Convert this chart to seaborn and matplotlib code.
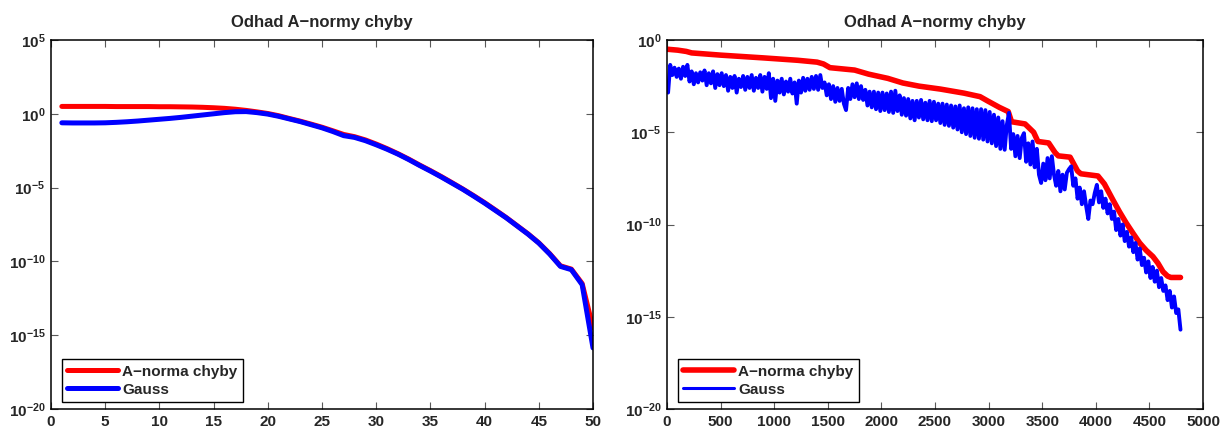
import numpy as np
import pandas as pd
import matplotlib
matplotlib.use("Agg")
import matplotlib.pyplot as plt
import seaborn as sns
from matplotlib.ticker import LogFormatterMathtext, FixedLocator, NullLocator

# ---- data: left panel (50 iterations), values as log10 ----
iter_left = np.arange(1, 51)
anorm_left_log = [0.50, 0.50, 0.50, 0.50, 0.50, 0.49, 0.49, 0.49, 0.49, 0.48,
                  0.48, 0.47, 0.46, 0.44, 0.41, 0.37, 0.31, 0.23, 0.13, 0.02,
                  -0.13, -0.32, -0.50, -0.70, -0.91, -1.15, -1.40, -1.55, -1.77, -2.05,
                  -2.36, -2.70, -3.07, -3.47, -3.85, -4.25, -4.67, -5.10, -5.55, -6.02,
                  -6.52, -7.03, -7.58, -8.13, -8.74, -9.47, -10.30, -10.52, -11.50, -14.50]
gauss_left_log = [-0.61, -0.62, -0.62, -0.62, -0.61, -0.58, -0.54, -0.49, -0.43, -0.37,
                  -0.31, -0.24, -0.16, -0.08, 0.00, 0.08, 0.14, 0.15, 0.08, -0.02,
                  -0.17, -0.35, -0.53, -0.74, -0.95, -1.20, -1.48, -1.60, -1.82, -2.10,
                  -2.40, -2.73, -3.10, -3.50, -3.88, -4.28, -4.70, -5.12, -5.58, -6.05,
                  -6.55, -7.05, -7.60, -8.15, -8.76, -9.50, -10.34, -10.56, -11.58, -15.86]

# ---- data: right panel (about 4800 iterations), values as log10 ----
anorm_right_iter = [1, 100, 180, 230, 500, 900, 1220, 1400, 1460, 1520,
                    1750, 1880, 2060, 2200, 2350, 2550, 2770, 2920, 2990, 3100,
                    3183, 3214, 3340, 3420, 3460, 3560, 3620, 3650, 3760, 3830,
                    3860, 4020, 4080, 4160, 4220, 4284, 4350, 4409, 4470, 4533,
                    4580, 4627, 4670, 4700, 4790]
anorm_right_log = [-0.50, -0.55, -0.62, -0.70, -0.82, -0.97, -1.10, -1.20, -1.30, -1.50,
                   -1.63, -1.85, -2.08, -2.33, -2.50, -2.66, -2.88, -3.07, -3.30, -3.65,
                   -3.88, -4.43, -4.55, -5.00, -5.50, -5.58, -6.10, -6.28, -6.35, -7.10,
                   -7.25, -7.37, -7.80, -8.67, -9.30, -9.92, -10.50, -11.00, -11.40, -11.74,
                   -12.10, -12.56, -12.80, -12.87, -12.87]

gauss_right_iter = np.arange(10, 4791, 20)
gauss_right_log = [
    # 10 .. 490
    -2.85, -1.35, -1.90, -1.50, -2.00, -1.55, -2.10, -1.45, -1.95, -1.35,
    -2.25, -1.70, -2.40, -1.80, -2.30, -1.75, -2.20, -1.65, -2.45, -1.80,
    -2.35, -1.70, -2.60, -1.85, -2.45,
    # 510 .. 990
    -1.80, -2.50, -1.90, -2.75, -2.00, -2.60, -1.95, -2.85, -2.10, -2.55,
    -1.95, -2.70, -2.00, -2.60, -1.90, -2.75, -2.05, -2.60, -1.90, -2.80,
    -2.00, -2.65, -1.80, -3.15, -2.10,
    # 1010 .. 1490
    -3.30, -2.20, -2.85, -2.10, -2.95, -2.25, -2.80, -2.10, -2.90, -2.30,
    -3.45, -2.20, -2.85, -2.05, -2.75, -2.10, -2.70, -2.00, -2.65, -1.95,
    -2.70, -1.90, -2.60, -2.30, -3.00,
    # 1510 .. 1990
    -2.40, -3.20, -2.50, -3.35, -2.60, -3.30, -2.65, -3.45, -3.80, -2.60,
    -3.20, -2.40, -3.10, -2.35, -3.20, -2.50, -3.25, -2.70, -3.55, -2.80,
    -3.65, -2.80, -3.75, -2.85, -3.85,
    # 2010 .. 2490
    -2.85, -3.80, -2.90, -3.90, -2.80, -3.95, -2.75, -3.85, -3.00, -4.05,
    -3.15, -4.10, -3.20, -4.25, -3.30, -4.35, -3.30, -4.20, -3.25, -4.30,
    -3.40, -4.35, -3.30, -4.40, -3.35,
    # 2510 .. 2990
    -4.35, -3.45, -4.50, -3.45, -4.60, -3.50, -4.65, -3.55, -4.75, -3.60,
    -4.85, -3.55, -5.00, -3.70, -5.10, -3.65, -5.20, -3.70, -5.30, -3.75,
    -5.35, -3.75, -5.40, -3.80, -5.50,
    # 3010 .. 3490
    -3.90, -5.60, -4.05, -5.75, -4.20, -5.90, -4.40, -5.95, -4.60, -3.95,
    -5.90, -5.10, -6.30, -5.20, -6.40, -5.30, -5.05, -6.60, -5.60, -6.75,
    -5.50, -6.90, -5.90, -7.30, -7.75,
    # 3510 .. 3990
    -6.70, -7.60, -6.40, -7.50, -6.30, -7.30, -7.90, -7.10, -8.20, -7.30,
    -8.10, -7.20, -7.00, -6.85, -7.90, -7.50, -8.60, -8.00, -8.90, -8.20,
    -9.00, -9.70, -8.70, -8.90, -8.30,
    # 4010 .. 4490
    -7.85, -8.80, -8.20, -9.10, -8.60, -9.40, -8.90, -9.70, -9.30, -10.30,
    -9.70, -10.60, -10.00, -10.90, -10.40, -11.20, -10.70, -11.50, -11.00, -11.90,
    -11.30, -12.20, -11.80, -12.60, -12.00,
    # 4510 .. 4790
    -12.90, -12.30, -13.10, -12.50, -13.40, -12.90, -13.60, -13.30, -14.10, -13.60,
    -14.50, -13.90, -14.80, -14.60, -15.70,
]

TITLE = "Odhad A\u2212normy chyby"
LABEL_A = "A\u2212norma chyby"
LABEL_G = "Gauss"
RED = "#ff0000"
BLUE = "#0000ff"

sns.set_style("ticks")
plt.rcParams["font.family"] = ["Liberation Sans", "DejaVu Sans"]
plt.rcParams["font.weight"] = "bold"
plt.rcParams["mathtext.fontset"] = "custom"
plt.rcParams["mathtext.rm"] = "Liberation Sans:bold"
plt.rcParams["mathtext.it"] = "Liberation Sans:bold"
plt.rcParams["mathtext.bf"] = "Liberation Sans:bold"
plt.rcParams["axes.unicode_minus"] = True

fig = plt.figure(figsize=(12.24, 4.30), dpi=100)
W, H = 1224.0, 430.0
ax1 = fig.add_axes([51 / W, 21 / H, 542 / W, 369 / H])
ax2 = fig.add_axes([667 / W, 21 / H, 536 / W, 369 / H])

df_left = pd.DataFrame({
    "iter": iter_left,
    "anorm": 10.0 ** np.array(anorm_left_log),
    "gauss": 10.0 ** np.array(gauss_left_log),
})
df_right_a = pd.DataFrame({"iter": anorm_right_iter,
                           "anorm": 10.0 ** np.array(anorm_right_log)})
df_right_g = pd.DataFrame({"iter": gauss_right_iter,
                           "gauss": 10.0 ** np.array(gauss_right_log)})

for ax in (ax1, ax2):
    ax.set_yscale("log")

sns.lineplot(data=df_left, x="iter", y="anorm", ax=ax1, color=RED,
             linewidth=3.6, label=LABEL_A, estimator=None, sort=False)
sns.lineplot(data=df_left, x="iter", y="gauss", ax=ax1, color=BLUE,
             linewidth=3.6, label=LABEL_G, estimator=None, sort=False)

sns.lineplot(data=df_right_a, x="iter", y="anorm", ax=ax2, color=RED,
             linewidth=4.0, label=LABEL_A, estimator=None, sort=False)
sns.lineplot(data=df_right_g, x="iter", y="gauss", ax=ax2, color=BLUE,
             linewidth=2.8, label=LABEL_G, estimator=None, sort=False)

ax1.set_xlim(0, 50)
ax1.set_ylim(1e-20, 1e5)
ax1.xaxis.set_major_locator(FixedLocator(np.arange(0, 51, 5)))
ax1.yaxis.set_major_locator(FixedLocator([1e-20, 1e-15, 1e-10, 1e-5, 1e0, 1e5]))

ax2.set_xlim(0, 5000)
ax2.set_ylim(1e-20, 1e0)
ax2.xaxis.set_major_locator(FixedLocator(np.arange(0, 5001, 500)))
ax2.yaxis.set_major_locator(FixedLocator([1e-20, 1e-15, 1e-10, 1e-5, 1e0]))

for ax, bx in ((ax1, 11 / 542), (ax2, 11 / 536)):
    ax.yaxis.set_major_formatter(LogFormatterMathtext())
    ax.yaxis.set_minor_locator(NullLocator())
    ax.set_xlabel("")
    ax.set_ylabel("")
    ax.set_title(TITLE, fontsize=12, fontweight="bold", pad=9)
    ax.tick_params(which="major", direction="in", top=True, right=True,
                   length=5, width=0.8, color="0.35", labelsize=11, pad=4)
    for sp in ax.spines.values():
        sp.set_visible(True)
        sp.set_color("black")
        sp.set_linewidth(1.1)
    for lab in ax.get_xticklabels() + ax.get_yticklabels():
        lab.set_fontweight("bold")
    leg = ax.legend(loc="lower left", bbox_to_anchor=(bx, 7 / 369),
                    borderaxespad=0, frameon=True, fancybox=False,
                    edgecolor="black", framealpha=1, handlelength=3.3,
                    handletextpad=0.3, borderpad=0.35, labelspacing=0.25,
                    prop={"weight": "bold", "size": 11})
    leg.get_frame().set_linewidth(1.0)

# the thin noisy series keeps a slimmer stroke in its legend entry
ax2.get_legend().get_lines()[1].set_linewidth(2.2)

fig.savefig("out.png", dpi=100)
